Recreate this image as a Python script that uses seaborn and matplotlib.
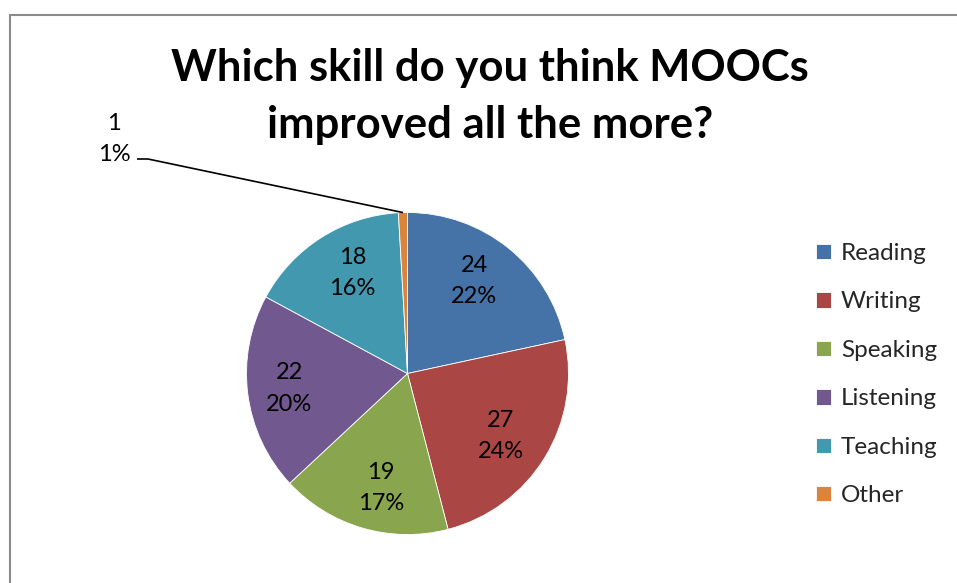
import numpy as np
import matplotlib
matplotlib.use("Agg")
import matplotlib.pyplot as plt
from matplotlib.patches import Rectangle
import seaborn as sns

# Survey answers
categories = ["Reading", "Writing", "Speaking", "Listening", "Teaching", "Other"]
counts = [24, 27, 19, 22, 18, 1]
percent_labels = ["22%", "24%", "17%", "20%", "16%", "1%"]

title = "Which skill do you think MOOCs\nimproved all the more?"

sns.set_theme(style="white")
plt.rcParams["font.family"] = ["Lato", "DejaVu Sans"]

colors = ["#4572A7", "#AA4643", "#89A54E", "#71588F", "#4198AF", "#DB843D"]

W, H = 957, 583
fig = plt.figure(figsize=(W / 100, H / 100), dpi=100)
fig.patch.set_facecolor("white")

# axes in pixel units, y pointing up
ax = fig.add_axes([0, 0, 1, 1])

# chart frame (extends beyond the image on right/bottom)
ax.add_patch(Rectangle((9.5, -20), W + 40, H - 14.5 + 20, fill=False,
                       edgecolor="#8C8C8C", linewidth=1.5, clip_on=False))

cx, cy, r = 407.5, H - 373.5, 161
wedges, _ = ax.pie(counts, colors=colors, startangle=90, counterclock=False,
                   center=(cx, cy), radius=r, frame=True,
                   wedgeprops=dict(edgecolor="white", linewidth=0.6))
ax.set_xlim(0, W)
ax.set_ylim(0, H)
ax.set_aspect("auto")
ax.axis("off")

fs = 17
# horizontal nudges (pixels) for the inside labels
nudge = [-8, -8, 7, 0, 9]
for i, w in enumerate(wedges[:-1]):
    ang = np.deg2rad((w.theta1 + w.theta2) / 2)
    x = cx + 0.74 * r * np.cos(ang) + nudge[i]
    y = cy + 0.74 * r * np.sin(ang)
    ax.text(x, y, f"{counts[i]}\n{percent_labels[i]}", ha="center", va="center",
            fontsize=fs, color="black", linespacing=1.62)

# outside label with leader line for the smallest slice
w = wedges[-1]
ang = np.deg2rad((w.theta1 + w.theta2) / 2)
ex, ey = cx + r * np.cos(ang), cy + r * np.sin(ang)
ax.text(114, H - 139, f"{counts[-1]}\n{percent_labels[-1]}", ha="center",
        va="center", fontsize=fs, color="black", linespacing=1.55)
ax.plot([137, 148, ex], [H - 159, H - 159, ey], color="black", lw=1.2,
        solid_capstyle="butt")

ax.text(490, H - 96.5, title, ha="center", va="center", fontsize=31.4,
        fontweight="bold", color="black", linespacing=1.5)

leg = ax.legend(wedges, categories, loc="upper left",
                bbox_to_anchor=(816 / W, 1 - 243 / H), frameon=False,
                fontsize=17.5, handlelength=0.6, handleheight=0.6,
                labelspacing=1.13, handletextpad=0.42, borderaxespad=0,
                borderpad=0)

fig.savefig("out.png", dpi=100, facecolor="white")
